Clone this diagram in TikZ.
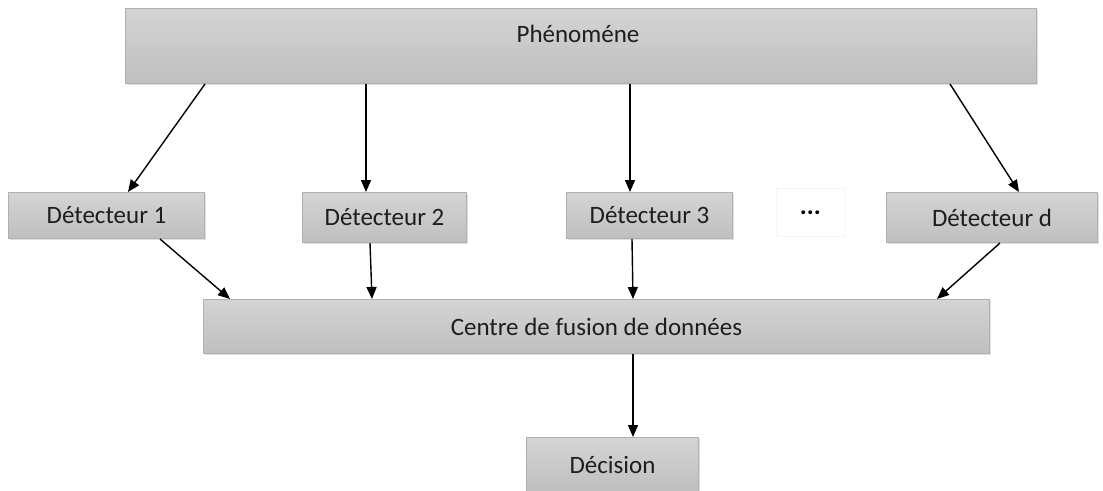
\documentclass[tikz,border=0pt]{standalone}
\usepackage{fontspec}
\setmainfont{Carlito}
\usetikzlibrary{arrows.meta,calc,shadows}
\definecolor{boxtop}{HTML}{D4D4D4}
\definecolor{boxbot}{HTML}{BFBFBF}
\definecolor{boxline}{HTML}{B0B0B0}
\definecolor{inkcol}{HTML}{1E1E1E}
\tikzset{
  box/.style={draw=boxline, line width=1pt, top color=boxtop, bottom color=boxbot,
    anchor=north west, inner sep=0pt, text=inkcol, font=\fontsize{25}{29}\selectfont,
    drop shadow={shadow xshift=1.5pt, shadow yshift=-1.5pt, fill=black, opacity=0.12}},
  plain/.style={draw=black!4, line width=0.6pt, fill=white, anchor=north west,
    inner sep=0pt, font=\fontsize{26}{30}\selectfont\bfseries},
  link/.style={line width=1.4pt, -{Triangle[length=12pt,width=10pt]}},
  lbl/.style={text=inkcol, font=\fontsize{25}{29}\selectfont, inner sep=0pt}
}
\begin{document}
\begin{tikzpicture}[x=1pt,y=-1pt]
\useasboundingbox (0,0) rectangle (1103,490);
% boxes
\node[box, minimum width=911pt, minimum height=75pt] (phen) at (125,8) {};
\node[lbl, anchor=base] (phentxt) at (578,42) {Phénoméne};
\node[box, minimum width=196pt, minimum height=46pt] (d1) at (8,192) {Détecteur 1};
\node[box, minimum width=164pt, minimum height=50pt] (d2) at (302,192) {Détecteur 2};
\node[box, minimum width=166pt, minimum height=46pt] (d3) at (566,192) {Détecteur 3};
\node[plain, minimum width=68pt, minimum height=48pt] (dots) at (776,188) {...};
\node[box, minimum width=211pt, minimum height=50pt] (dd) at (886,192) {Détecteur d};
\node[box, minimum width=786pt, minimum height=54pt] (centre) at (203,299) {Centre de fusion de données};
\node[box, minimum width=172pt, minimum height=54pt] (dec) at (526,437) {Décision};
% links from the phenomenon to the detectors
\draw[link] ([xshift=80pt]phen.south west) -- ([xshift=120pt]d1.north west);
\draw[link] ([xshift=241pt]phen.south west) -- ([xshift=64pt]d2.north west);
\draw[link] ([xshift=505pt]phen.south west) -- ([xshift=64pt]d3.north west);
\draw[link] ([xshift=825pt]phen.south west) -- ([xshift=133pt]dd.north west);
% links from the detectors to the fusion centre
\draw[link] ([xshift=152pt]d1.south west) -- ([xshift=27pt]centre.north west);
\draw[link] ([xshift=68pt]d2.south west) -- ([xshift=169pt]centre.north west);
\draw[link] ([xshift=66pt]d3.south west) -- ([xshift=430pt]centre.north west);
\draw[link] ([xshift=114pt]dd.south west) -- ([xshift=734pt]centre.north west);
% decision
\draw[link] ([xshift=430pt]centre.south west) -- ([xshift=107pt]dec.north west);
\end{tikzpicture}
\end{document}
